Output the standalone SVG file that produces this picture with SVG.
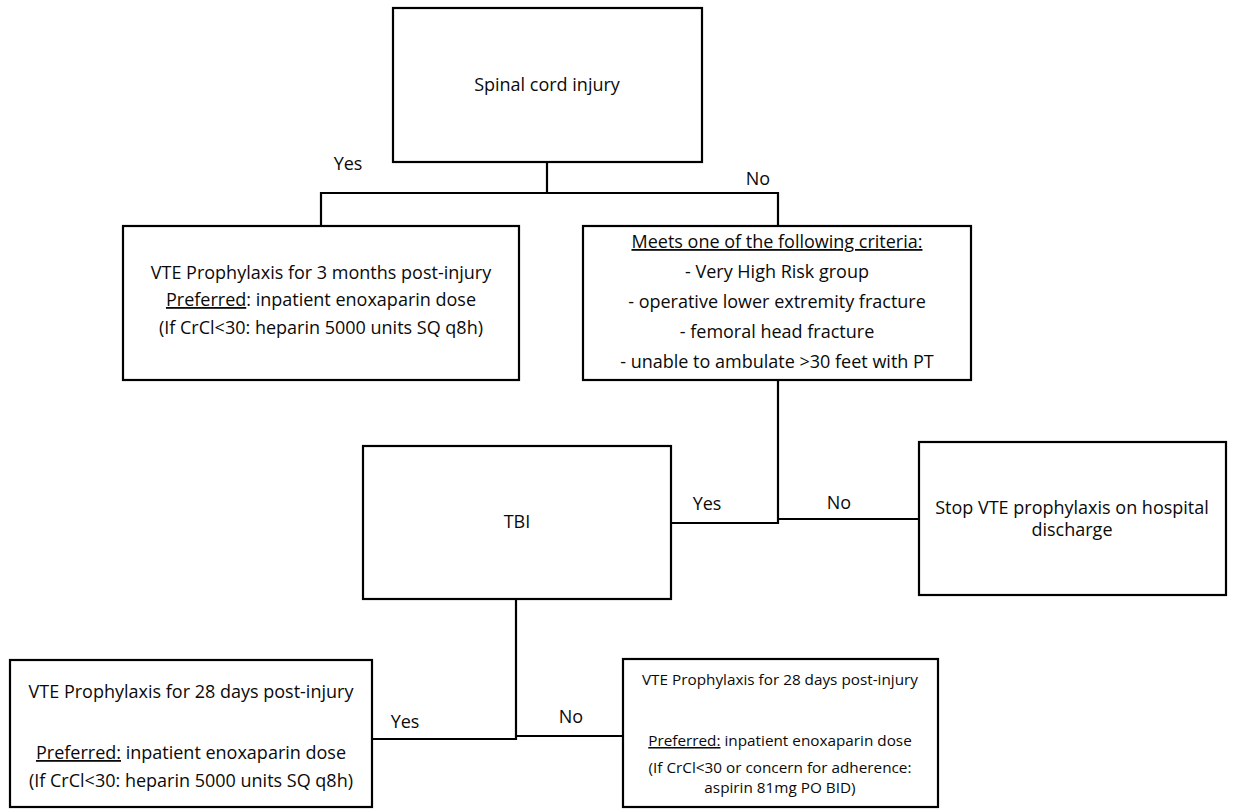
<svg xmlns="http://www.w3.org/2000/svg" width="1235" height="811" viewBox="0 0 1235 811">
<style>
.box{fill:#fff;stroke:#000;stroke-width:2.2}
.con{fill:none;stroke:#000;stroke-width:2.2}
text{font-family:"Open Sans","Noto Sans","Liberation Sans",sans-serif;font-size:18px;fill:#0a0a0a;text-anchor:middle}
.sm{font-size:15.3px}
.u{text-decoration:underline}
</style>
<rect width="1235" height="811" fill="#fff"/>
<g id="connectors">
<path class="con" d="M547 162 V193 M321 226 V193 H778 V226"/>
<path class="con" d="M778 380 V523 H671 M778 519 H919"/>
<path class="con" d="M516 599 V739 H372 M516 736 H623"/>
<text x="348" y="170">Yes</text>
<text x="758" y="185">No</text>
<text x="707" y="510">Yes</text>
<text x="839" y="509">No</text>
<text x="405" y="728">Yes</text>
<text x="571" y="723">No</text>
</g>
<g id="spinal">
<rect class="box" x="393" y="8" width="309" height="154"/>
<text x="547" y="91">Spinal cord injury</text>
</g>
<g id="vte3months">
<rect class="box" x="123" y="226" width="396" height="154"/>
<text x="321" y="279">VTE Prophylaxis for 3 months post-injury</text>
<text x="321" y="306"><tspan class="u">Preferred</tspan>: inpatient enoxaparin dose</text>
<text x="321" y="334">(If CrCl&lt;30: heparin 5000 units SQ q8h)</text>
</g>
<g id="criteria">
<rect class="box" x="583" y="226" width="388" height="154"/>
<text x="777" y="248"><tspan class="u">Meets one of the following criteria:</tspan></text>
<text x="777" y="278">- Very High Risk group</text>
<text x="777" y="308">- operative lower extremity fracture</text>
<text x="777" y="338">- femoral head fracture</text>
<text x="777" y="368">- unable to ambulate &gt;30 feet with PT</text>
</g>
<g id="tbi">
<rect class="box" x="363" y="446" width="308" height="153"/>
<text x="517" y="528">TBI</text>
</g>
<g id="stop">
<rect class="box" x="919" y="442" width="307" height="153"/>
<text x="1072" y="514">Stop VTE prophylaxis on hospital</text>
<text x="1072" y="536">discharge</text>
</g>
<g id="vte28tbi">
<rect class="box" x="10" y="660" width="362" height="147"/>
<text x="191" y="698">VTE Prophylaxis for 28 days post-injury</text>
<text x="191" y="759"><tspan class="u">Preferred:</tspan> inpatient enoxaparin dose</text>
<text x="191" y="787">(If CrCl&lt;30: heparin 5000 units SQ q8h)</text>
</g>
<g id="vte28notbi">
<rect class="box" x="623" y="659" width="315" height="148"/>
<text class="sm" x="780" y="685">VTE Prophylaxis for 28 days post-injury</text>
<text class="sm" x="780" y="746"><tspan class="u">Preferred:</tspan> inpatient enoxaparin dose</text>
<text class="sm" x="780" y="773">(If CrCl&lt;30 or concern for adherence:</text>
<text class="sm" x="780" y="793">aspirin 81mg PO BID)</text>
</g>
</svg>
